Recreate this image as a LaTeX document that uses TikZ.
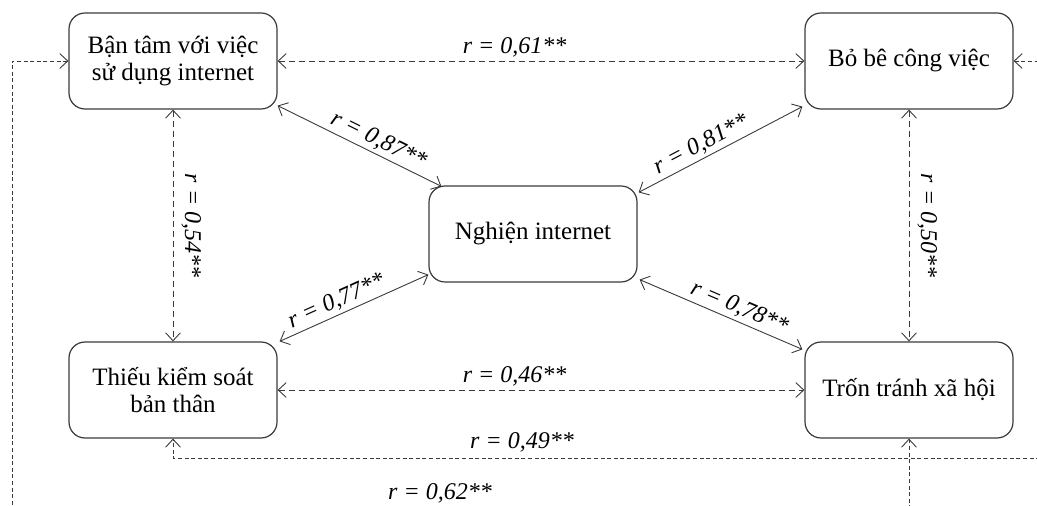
\documentclass[tikz,border=0pt]{standalone}
\usepackage{fontspec}
\setmainfont{Liberation Serif}
\usepackage{tikz}
\usetikzlibrary{arrows.meta,positioning,calc}
\definecolor{LineGray}{HTML}{3A3A3A}

\begin{document}
\begin{tikzpicture}[
x=0.5pt,y=-0.5pt,
box/.style={draw=LineGray,line width=0.6pt,rounded corners=8pt,align=center,minimum width=104pt,minimum height=48pt,font=\fontsize{12.5}{13.5}\selectfont},
lbl/.style={font=\fontsize{12}{14}\selectfont\itshape,inner sep=1.5pt},
vlbl/.style={lbl,rotate=-90,anchor=south,inner sep=4pt},
arrow/.style={<->,>={Straight Barb[length=1.4mm,width=2.6mm]},line width=0.45pt,draw=LineGray},
dline/.style={arrow,dash pattern=on 3pt off 2pt},
outer/.style={arrow,dash pattern=on 2pt off 1.3pt}
]
\useasboundingbox (0,0) rectangle (1037,506);

\node[box] (bantam) at (173,61) {Bận tâm với việc\\sử dụng internet};
\node[box] (bobe) at (909,61) {Bỏ bê công việc};
\node[box] (nghien) at (533,234) {Nghiện internet};
\node[box] (thieu) at (173,390) {Thiếu kiểm soát\\bản thân};
\node[box] (tron) at (909,390) {Trốn tránh xã hội};

\coordinate (cornerL) at (12,512);
\coordinate (cornerR) at (1050,458);

\draw[dline] (bantam) -- node[lbl,above,pos=0.45] (r61) {r = 0,61**} (bobe);
\draw[dline] (thieu) -- node[lbl,above,pos=0.45] (r46) {r = 0,46**} (tron);
\draw[dline] (bantam) -- node[vlbl] (r54) {r = 0,54**} (thieu);
\draw[dline] (bobe) -- node[vlbl] (r50) {r = 0,50**} (tron);

\draw[arrow] ([shift={(0,-4)}]bantam.south east) -- node[lbl,sloped,above,pos=0.58] (r87) {r = 0,87**} ([shift={(13,1)}]nghien.north west);
\draw[arrow] ([shift={(1,7)}]nghien.north east) -- node[lbl,sloped,above,pos=0.42] (r81) {r = 0,81**} ([shift={(-2,-3)}]bobe.south west);
\draw[arrow] ([shift={(2,0)}]thieu.north east) -- node[lbl,sloped,above,pos=0.42] (r77) {r = 0,77**} ([shift={(0,-8)}]nghien.south west);
\draw[arrow] ([shift={(2,-3)}]nghien.south east) -- node[lbl,sloped,above,pos=0.58] (r78) {r = 0,78**} ([shift={(-2,8)}]tron.north west);

\draw[outer] (bobe.east) -| (cornerR) -| (thieu.south);
\node[lbl] (r49) at (522,442) {r = 0,49**};
\draw[outer] (bantam.west) -| (cornerL) -| (tron.south);
\node[lbl] (r62) at (440,493) {r = 0,62**};
\end{tikzpicture}
\end{document}
